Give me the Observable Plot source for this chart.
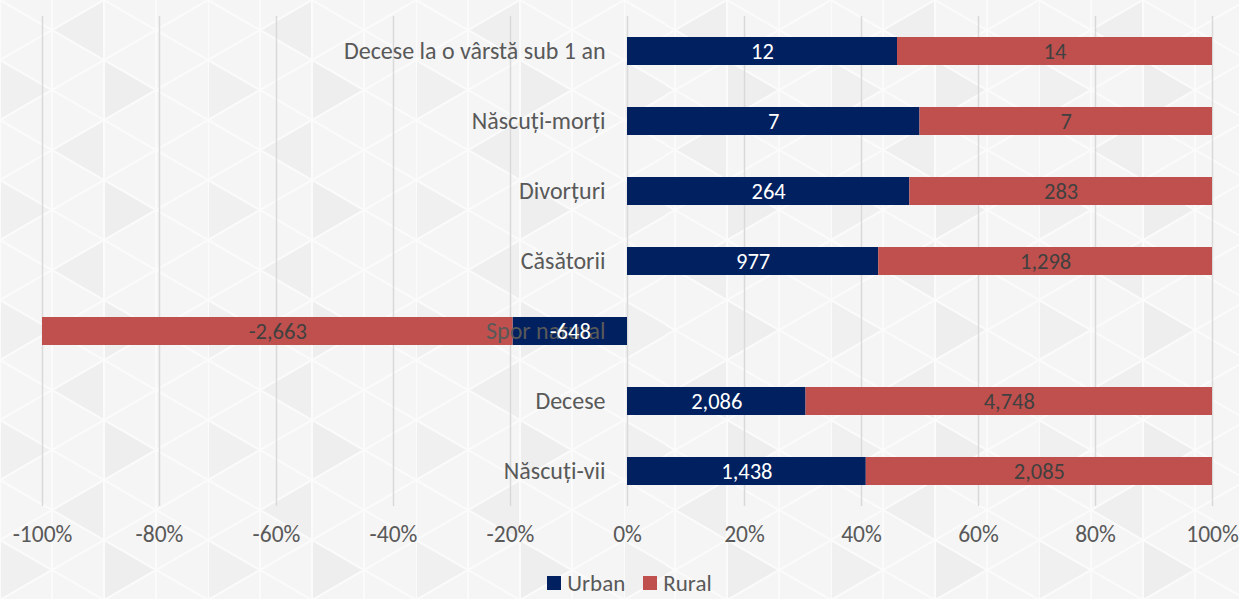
<!DOCTYPE html>
<html><head><meta charset="utf-8">
<script src="https://cdn.jsdelivr.net/npm/d3@7"></script>
<script src="https://cdn.jsdelivr.net/npm/@observablehq/plot@0.6"></script>
<style>
html,body{margin:0;padding:0;width:1239px;height:599px;overflow:hidden;}
body{background-color:#f5f5f5;font-family:Carlito,Calibri,"Noto Sans",sans-serif;}
#chart svg{display:block;background:transparent;}
#legend{display:flex;justify-content:center;align-items:center;height:30px;gap:18px;font-size:23px;line-height:26px;color:#595959;padding-left:20px;padding-top:12px;}
#legend span.item{display:flex;align-items:center;gap:6px;}
#legend i{display:inline-block;width:14px;height:14px;}
</style></head><body>
<div id="chart"></div>
<div id="legend"></div>
<script>
const categories = ["Decese la o vârstă sub 1 an","Născuți-morți","Divorțuri","Căsătorii","Spor natural","Decese","Născuți-vii"];
const urban = [12, 7, 264, 977, -648, 2086, 1438];
const rural = [14, 7, 283, 1298, -2663, 4748, 2085];
const xTicks = [-1, -0.8, -0.6, -0.4, -0.2, 0, 0.2, 0.4, 0.6, 0.8, 1];
const seriesNames = ["Urban", "Rural"];
const seriesColors = ["#002060", "#C0504D"];

// background triangle lattice
(function(){
  const s = 60, w = s*Math.sqrt(3)/2;
  const svg = `<svg xmlns='http://www.w3.org/2000/svg' width='${4*w}' height='${2*s}'>
  <path d='M${w} ${s/2} L${2*w} 0 L${2*w} ${s} Z' fill='#efefef'/>
  <path d='M0 ${s} L${w} ${1.5*s} L0 ${2*s} Z' fill='#f0f0f0'/>
  <path d='M${2*w} ${s} L${3*w} ${1.5*s} L${2*w} ${2*s} Z' fill='#eeeeee'/>
  <g stroke='#fbfbfb' stroke-width='2' fill='none'>
  <path d='M0 0 V${2*s} M${w} 0 V${2*s} M${2*w} 0 V${2*s} M${3*w} 0 V${2*s}'/>
  <path d='M0 0 L${w} ${s/2} L${2*w} 0 L${3*w} ${s/2} L${4*w} 0 M0 ${s} L${w} ${s/2} L${2*w} ${s} L${3*w} ${s/2} L${4*w} ${s}'/>
  <path d='M0 ${s} L${w} ${1.5*s} L${2*w} ${s} L${3*w} ${1.5*s} L${4*w} ${s} M0 ${2*s} L${w} ${1.5*s} L${2*w} ${2*s} L${3*w} ${1.5*s} L${4*w} ${2*s}'/>
  </g></svg>`;
  document.body.style.backgroundImage = `url("data:image/svg+xml,${encodeURIComponent(svg)}")`;
})();

const rows = [];
categories.forEach((c, i) => {
  const t = Math.abs(urban[i]) + Math.abs(rural[i]);
  const u = urban[i] / t, r = rural[i] / t;
  rows.push({category: c, series: "Urban", value: urban[i], x1: 0, x2: u});
  rows.push({category: c, series: "Rural", value: rural[i], x1: u, x2: u + r});
});
const fmt = d => d3.format(",")(d).replace("\u2212", "-");
const font = 'Carlito, Calibri, "Noto Sans", sans-serif';

const chart = Plot.plot({
  width: 1239, height: 556,
  marginTop: 16, marginLeft: 42, marginRight: 27, marginBottom: 50,
  style: {background: "transparent", fontFamily: font, fontSize: "23px", color: "#595959"},
  x: {domain: [-1, 1], axis: null},
  y: {domain: categories, paddingInner: 0.6, paddingOuter: 0.3, axis: null},
  color: {domain: seriesNames, range: seriesColors},
  marks: [
    Plot.ruleX(xTicks, {stroke: "#d9d9d9", strokeWidth: 1.5}),
    Plot.axisX({ticks: xTicks, tickSize: 0, tickPadding: 19, tickFormat: d => Math.round(d*100) + "%", fill: "#595959", fontSize: 23.5}),
    Plot.barX(rows, {y: "category", x1: "x1", x2: "x2", fill: "series"}),
    Plot.text(categories, {x: 0, y: d => d, dx: -22, textAnchor: "end", fill: "#595959", fontSize: 24}),
    Plot.text(rows.filter(d => d.series === "Urban"), {x: d => (d.x1 + d.x2)/2, y: "category", text: d => fmt(d.value), fill: "white", fontSize: 22.5}),
    Plot.text(rows.filter(d => d.series === "Rural"), {x: d => (d.x1 + d.x2)/2, y: "category", text: d => fmt(d.value), fill: "#404040", fontSize: 22.5})
  ]
});
document.getElementById("chart").appendChild(chart);
document.getElementById("legend").innerHTML = seriesNames.map((n, i) =>
  `<span class="item"><i style="background:${seriesColors[i]}"></i>${n}</span>`).join("");
</script>
</body></html>
